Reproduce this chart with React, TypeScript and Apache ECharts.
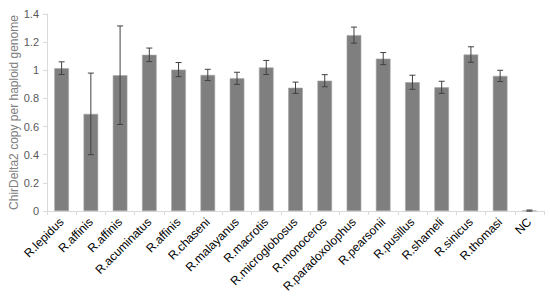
import React, { useEffect, useRef } from "react";
import * as echarts from "echarts";

const categories = [
  "R.lepidus", "R.affinis", "R.affinis", "R.acuminatus", "R.affinis", "R.chaseni",
  "R.malayanus", "R.macrotis", "R.microglobosus", "R.monoceros", "R.paradoxolophus",
  "R.pearsonii", "R.pusillus", "R.shameli", "R.sinicus", "R.thomasi", "NC",
];
const values = [1.015, 0.69, 0.965, 1.11, 1.005, 0.967, 0.943, 1.02, 0.876, 0.926, 1.25, 1.083, 0.915, 0.879, 1.112, 0.96, 0.003];
const errors = [0.045, 0.29, 0.35, 0.048, 0.05, 0.04, 0.043, 0.05, 0.04, 0.043, 0.057, 0.043, 0.05, 0.043, 0.055, 0.04, 0.004];
const yTicks = [0, 0.2, 0.4, 0.6, 0.8, 1, 1.2, 1.4];

export default function App() {
  const ref = useRef<HTMLDivElement>(null);
  useEffect(() => {
    const chart = echarts.init(ref.current!, null, { renderer: "svg" });
    const errData = values.map((v, i) => [i, v - errors[i], v + errors[i]]);
    chart.setOption({
      animation: false,
      grid: { left: 47, right: 6, top: 14, bottom: 92, containLabel: false, outerBoundsMode: "none" },
      xAxis: {
        type: "category",
        data: categories,
        axisLine: { lineStyle: { color: "#d9d9d9" } },
        axisTick: { show: true, alignWithLabel: false, length: 4, lineStyle: { color: "#d9d9d9" } },
        axisLabel: {
          rotate: 45,
          interval: 0,
          color: "#000",
          fontSize: 12,
          fontFamily: "Liberation Sans, Arial, sans-serif",
          margin: 9,
        },
      },
      yAxis: {
        type: "value",
        min: 0,
        max: yTicks[yTicks.length - 1],
        interval: 0.2,
        name: "ChirDelta2 copy per haploid genome",
        nameLocation: "middle",
        nameGap: 27,
        nameMoveOverlap: false,
        nameTextStyle: { color: "#808080", fontSize: 12, fontFamily: "Liberation Sans, Arial, sans-serif" },
        splitLine: { show: false },
        axisLine: { show: true, lineStyle: { color: "#d9d9d9" } },
        axisTick: { show: true, length: 4, lineStyle: { color: "#d9d9d9" } },
        axisLabel: {
          color: "#595959",
          fontSize: 11,
          fontFamily: "Liberation Sans, Arial, sans-serif",
          margin: 8,
          formatter: (v: number) => String(Math.round(v * 10) / 10),
        },
      },
      series: [
        {
          type: "bar",
          data: values,
          barWidth: "50%",
          itemStyle: { color: "#7f7f7f", borderColor: "#a6a6a6", borderWidth: 0.6 },
        },
        {
          type: "custom",
          data: errData,
          z: 10,
          renderItem: (params: any, api: any) => {
            const x = api.value(0);
            const lo = api.coord([x, api.value(1)]);
            const hi = api.coord([x, api.value(2)]);
            const w = 3;
            const style = { stroke: "#404040", lineWidth: 1 };
            return {
              type: "group",
              children: [
                { type: "line", shape: { x1: hi[0], y1: hi[1], x2: lo[0], y2: lo[1] }, style },
                { type: "line", shape: { x1: hi[0] - w, y1: hi[1], x2: hi[0] + w, y2: hi[1] }, style },
                { type: "line", shape: { x1: lo[0] - w, y1: lo[1], x2: lo[0] + w, y2: lo[1] }, style },
              ],
            };
          },
        },
      ],
    });
    return () => chart.dispose();
  }, []);
  return <div ref={ref} style={{ width: 550, height: 303, position: "absolute", left: 0, top: 0 }} />;
}
